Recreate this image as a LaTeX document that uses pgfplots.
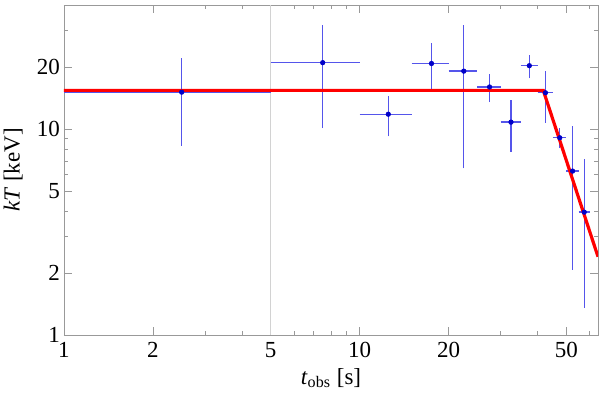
\documentclass[border=0pt]{standalone}
\usepackage{fontspec}
\setmainfont{Liberation Serif}
\usepackage{pgfplots}
\usepackage{pgfplotstable}
\pgfplotsset{compat=1.18}
\definecolor{errblue}{RGB}{85,85,235}
\definecolor{ptblue}{RGB}{0,0,200}

% bin centres and kT
\pgfplotstableread{
x    y
2.5  15.1
7.5  21.0
12.5 11.8
17.5 20.8
22.5 19.1
27.5 16.0
32.5 10.8
37.5 20.3
42.5 15.0
47.5 9.07
52.5 6.25
57.5 3.95
}\bins

% error bars: bin extent (horizontal) and kT range (vertical), nan = break
\pgfplotstableread{
x    y
1    15.1
5    15.1
nan  nan
2.5  8.3
2.5  22.1
nan  nan
5    21.0
10   21.0
nan  nan
7.5  10.1
7.5  32.0
nan  nan
10   11.8
15   11.8
nan  nan
12.5 9.2
12.5 14.5
nan  nan
15   20.8
20   20.8
nan  nan
17.5 15.6
17.5 26.1
nan  nan
20   19.1
25   19.1
nan  nan
22.5 6.45
22.5 32.0
nan  nan
25   16.0
30   16.0
nan  nan
27.5 13.5
27.5 18.6
nan  nan
30   10.8
35   10.8
nan  nan
32.5 7.75
32.5 13.8
nan  nan
35   20.3
40   20.3
nan  nan
37.5 17.6
37.5 22.9
nan  nan
40   15.0
45   15.0
nan  nan
42.5 10.7
42.5 19.1
nan  nan
45   9.07
50   9.07
nan  nan
47.5 8.07
47.5 10.1
nan  nan
50   6.25
55   6.25
nan  nan
52.5 2.07
52.5 10.3
nan  nan
55   3.95
60   3.95
nan  nan
57.5 1.36
57.5 7.13
}\errs

\begin{document}
\begin{tikzpicture}
\begin{loglogaxis}[
    scale only axis,
    width=267pt, height=165pt,
    xmin=1, xmax=64, ymin=1, ymax=40,
    xtick={1,2,5,10,20,50},
    minor xtick={3,4,6,7,8,9,30,40,60},
    ytick={1,2,5,10,20},
    minor ytick={3,4,6,7,8,9,30,40},
    xticklabel={\textrm{\pgfmathparse{exp(\tick)}\pgfmathprintnumber[fixed,precision=0,assume math mode=true]{\pgfmathresult}}},
    yticklabel={\textrm{\pgfmathparse{exp(\tick)}\pgfmathprintnumber[fixed,precision=0,assume math mode=true]{\pgfmathresult}}},
    tick align=inside,
    major tick length=4pt, minor tick length=2pt,
    axis line style={gray!80},
    every tick/.style={gray!80, line width=0.4pt},
    tick label style={font=\fontsize{11.5}{13}\selectfont, black},
    yticklabel style={xshift=1.5pt},
    label style={font=\fontsize{11.5}{13}\selectfont},
    xlabel={\textit{t}\textsubscript{obs} [s]},
    ylabel={\textit{kT} [keV]},
    xlabel style={at={(axis description cs:0.5,-0.13)}, anchor=center},
    ylabel style={at={(axis description cs:-0.095,0.5)}, anchor=center},
    unbounded coords=jump,
    clip=true,
]
\addplot[gray!35, line width=0.4pt] coordinates {(5,1) (5,40)};
\addplot[errblue, line width=0.7pt, mark=none] table[x=x, y=y] {\errs};
\addplot[only marks, mark=*, mark size=1.1pt, draw=ptblue, fill=ptblue]
    table[x=x, y=y] {\bins};
\addplot[red, line width=1.6pt] coordinates {(1,15.4) (41.8,15.4) (64,2.4)};
\end{loglogaxis}
\pgfresetboundingbox
\path ([xshift=-32pt,yshift=-29.5pt]current axis.south west)
    rectangle ([xshift=1pt,yshift=2.5pt]current axis.north east);
\end{tikzpicture}
\end{document}
